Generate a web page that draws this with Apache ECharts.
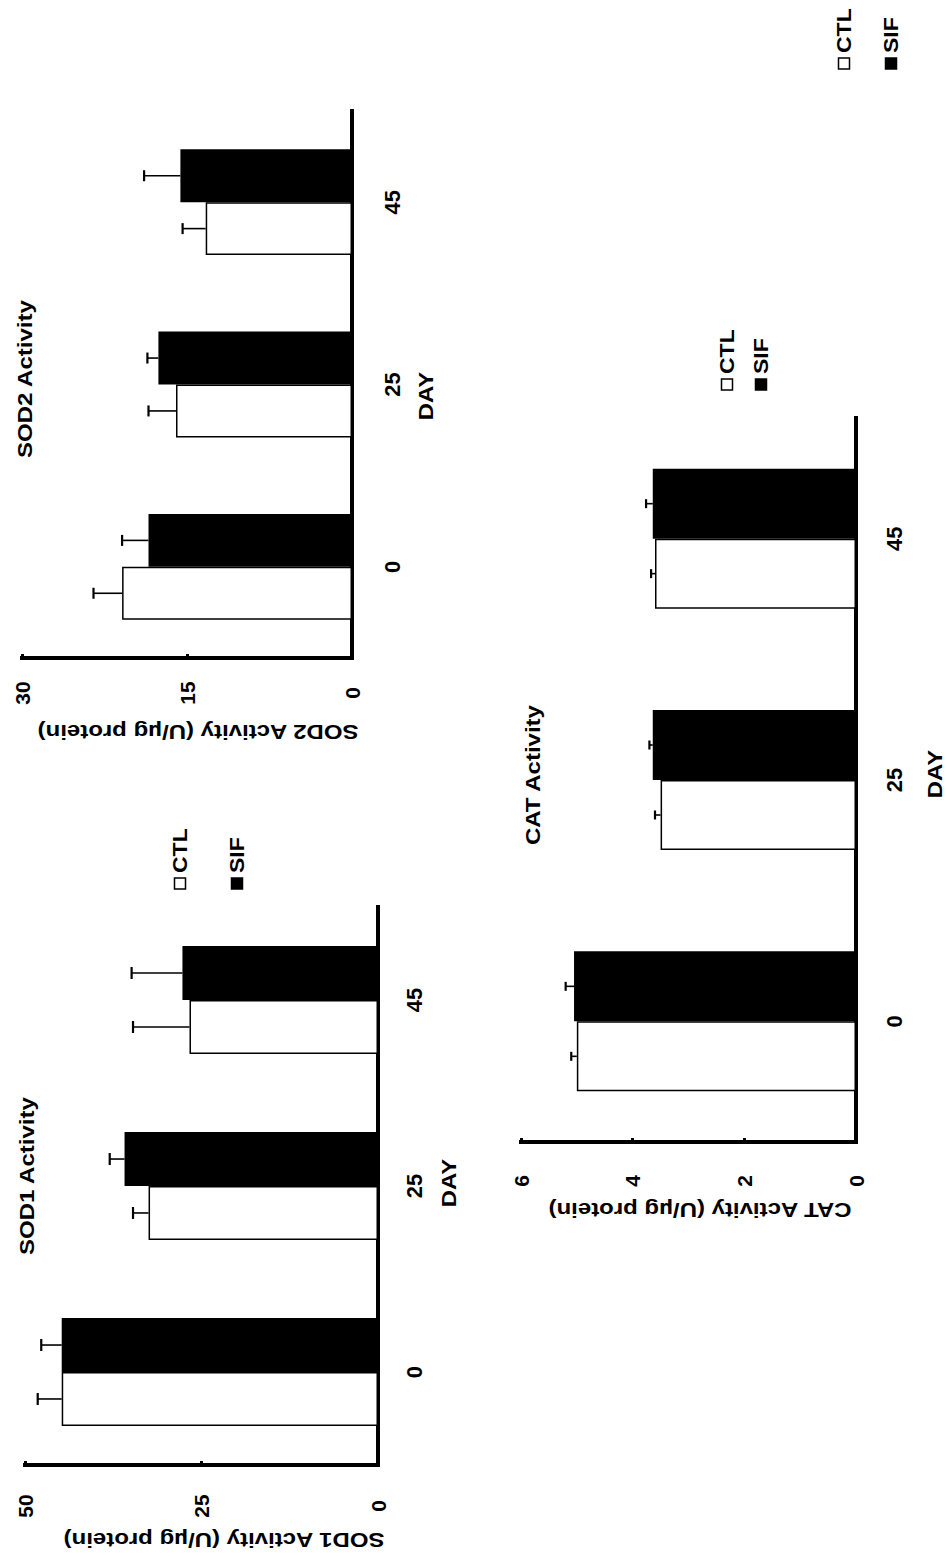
<!DOCTYPE html>
<html><head><meta charset="utf-8">
<script src="https://cdn.jsdelivr.net/npm/echarts@6/dist/echarts.min.js"></script>
<style>
html,body{margin:0;padding:0;background:#fff;overflow:hidden;width:947px;height:1556px}
#chart{position:absolute;left:0;top:0;width:1556px;height:947px;transform-origin:0 0;transform:translate(0,1556px) rotate(-90deg);}
</style></head><body><div id="chart"></div>
<script>
// ---- data ----
const days = ['0', '25', '45'];
const groupNames = ['CTL', 'SIF'];
const panelTitles = ['SOD1 Activity', 'SOD2 Activity', 'CAT Activity'];
const axisNames = ['SOD1 Activity (U/\u00b5g protein)', 'SOD2 Activity (U/\u00b5g protein)', 'CAT Activity (U/\u00b5g protein)'];
const xName = 'DAY';

const sod1Ctl = [44.8, 32.5, 26.7];
const sod1CtlErr = [3.4, 2.2, 8.0];
const sod1Sif = [44.8, 35.9, 27.7];
const sod1SifErr = [2.9, 2.1, 7.2];

const sod2Ctl = [20.9, 16.0, 13.3];
const sod2CtlErr = [2.6, 2.5, 2.1];
const sod2Sif = [18.5, 17.6, 15.6];
const sod2SifErr = [2.4, 1.0, 3.3];

const catCtl = [5.0, 3.5, 3.6];
const catCtlErr = [0.1, 0.1, 0.07];
const catSif = [5.05, 3.64, 3.64];
const catSifErr = [0.15, 0.06, 0.12];

// value axis [min, max, interval]
const sod1Scale = [0, 50, 25];
const sod2Scale = [0, 30, 15];
const catScale = [0, 6, 2];

// ---- layout (unrotated coordinates; the whole page is rotated -90deg) ----
const FF = '"Liberation Sans", Arial, Helvetica, sans-serif';
const FONT = 'bold 20px ' + FF;
const panels = [
  {ctl: sod1Ctl, ctlErr: sod1CtlErr, sif: sod1Sif, sifErr: sod1SifErr, scale: sod1Scale,
   grid: {left: 91, top: 25, width: 558, height: 353}, valMargin: 41, catMargin: 25, cap: 12,
   title: [301, 27], name: [16, 224], day: [373, 449], legend: [667, 180, 237]},
  {ctl: sod2Ctl, ctlErr: sod2CtlErr, sif: sod2Sif, sifErr: sod2SifErr, scale: sod2Scale,
   grid: {left: 898, top: 22, width: 547, height: 330}, valMargin: 35, catMargin: 29, cap: 11,
   title: [1098, 25], name: [824, 198], day: [1160, 426], legend: [1487, 844, 891]},
  {ctl: catCtl, ctlErr: catCtlErr, sif: catSif, sifErr: catSifErr, scale: catScale,
   grid: {left: 414, top: 521, width: 724, height: 335}, valMargin: 39, catMargin: 27, cap: 9,
   title: [711, 533], name: [346, 700], day: [782, 935], legend: [1166, 727, 761]}
];

const BAR_FRAC = 0.29;

function errItem(offsetFrac, capLen) {
  return function (params, api) {
    const c = api.value(0), v = api.value(1), e = api.value(2);
    const band = api.size([1, 0])[0];
    const p0 = api.coord([c, v]);
    const p1 = api.coord([c, v + e]);
    const x = p0[0] + offsetFrac * band;
    return {type: 'group', children: [
      {type: 'line', shape: {x1: x, y1: p0[1], x2: x, y2: p1[1]}, style: {stroke: '#000', lineWidth: 1.6}},
      {type: 'line', shape: {x1: x - capLen / 2, y1: p1[1], x2: x + capLen / 2, y2: p1[1]}, style: {stroke: '#000', lineWidth: 2.2}}
    ]};
  };
}

const grids = [], xAxes = [], yAxes = [], series = [], graphics = [];
panels.forEach((p, i) => {
  grids.push(Object.assign({containLabel: false}, p.grid));
  xAxes.push({
    type: 'category', gridIndex: i, data: days,
    axisLine: {show: true, lineStyle: {color: '#000', width: 4, cap: 'square'}},
    axisTick: {show: false},
    axisLabel: {margin: p.catMargin, fontSize: 22, fontWeight: 'bold', color: '#000', fontFamily: FF}
  });
  yAxes.push({
    type: 'value', gridIndex: i, min: p.scale[0], max: p.scale[1], interval: p.scale[2],
    axisLine: {show: true, lineStyle: {color: '#000', width: 4, cap: 'square'}},
    axisTick: {show: true, inside: true, length: 4, lineStyle: {color: '#000', width: 3}},
    axisLabel: {margin: p.valMargin, align: 'center', fontSize: 21, fontWeight: 'bold', color: '#000', fontFamily: FF},
    splitLine: {show: false}
  });
  series.push({
    type: 'bar', name: groupNames[0], xAxisIndex: i, yAxisIndex: i, data: p.ctl,
    barWidth: (BAR_FRAC * 100) + '%', barGap: '0%',
    itemStyle: {color: '#fff', borderColor: '#000', borderWidth: 1.5}
  });
  series.push({
    type: 'bar', name: groupNames[1], xAxisIndex: i, yAxisIndex: i, data: p.sif,
    barWidth: (BAR_FRAC * 100) + '%', barGap: '0%',
    itemStyle: {color: '#000', borderColor: '#000', borderWidth: 0}
  });
  series.push({
    type: 'custom', xAxisIndex: i, yAxisIndex: i, z: 5,
    renderItem: errItem(-BAR_FRAC / 2, p.cap),
    encode: {x: 0, y: 1},
    data: days.map((d, k) => [k, p.ctl[k], p.ctlErr[k]])
  });
  series.push({
    type: 'custom', xAxisIndex: i, yAxisIndex: i, z: 5,
    renderItem: errItem(BAR_FRAC / 2, p.cap),
    encode: {x: 0, y: 1},
    data: days.map((d, k) => [k, p.sif[k], p.sifErr[k]])
  });
  // title
  graphics.push({type: 'text', x: p.title[0], y: p.title[1], scaleX: 1.2,
    style: {text: panelTitles[i], font: FONT, fill: '#000', textAlign: 'left', textVerticalAlign: 'middle'}});
  // value axis name
  graphics.push({type: 'text', x: p.name[0], y: p.name[1], rotation: Math.PI / 2, scaleX: 1.2,
    style: {text: axisNames[i], font: FONT, fill: '#000', textAlign: 'center', textVerticalAlign: 'middle'}});
  // category axis name
  graphics.push({type: 'text', x: p.day[0], y: p.day[1], scaleX: 1.2,
    style: {text: xName, font: FONT, fill: '#000', textAlign: 'center', textVerticalAlign: 'middle'}});
  // legend
  [0, 1].forEach(k => {
    const cy = p.legend[1 + k];
    graphics.push({type: 'rect', shape: {x: p.legend[0], y: cy - 5.5, width: 11, height: 11},
      style: {fill: k === 0 ? '#fff' : '#000', stroke: '#000', lineWidth: 1.5}});
    graphics.push({type: 'text', x: p.legend[0] + 16, y: cy, scaleX: 1.15,
      style: {text: groupNames[k], font: FONT, fill: '#000', textAlign: 'left', textVerticalAlign: 'middle'}});
  });
});

const chart = echarts.init(document.getElementById('chart'), null, {renderer: 'svg', width: 1556, height: 947});
chart.setOption({
  backgroundColor: '#fff',
  animation: false,
  grid: grids,
  xAxis: xAxes,
  yAxis: yAxes,
  series: series,
  graphic: graphics
});
</script></body></html>
